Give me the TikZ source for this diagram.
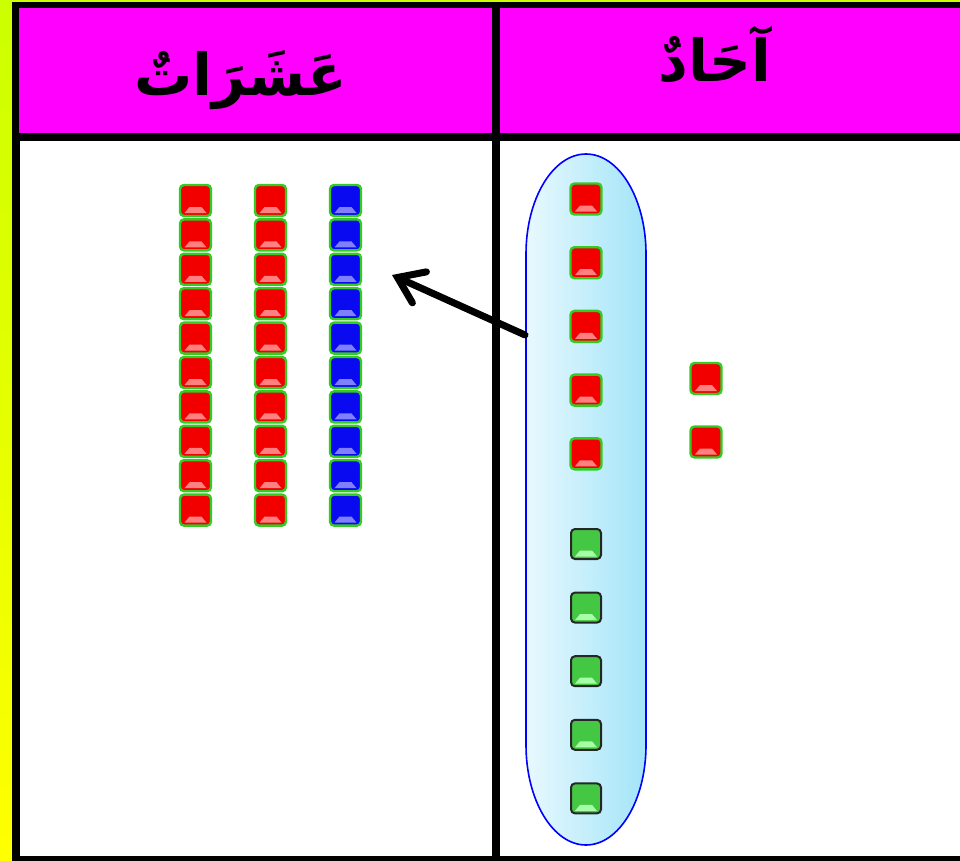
\documentclass[tikz,border=0pt]{standalone}
\usepackage{fontspec}
\newfontfamily\arabicfont[Script=Arabic]{DejaVu Sans}
\TeXXeTstate=1
\usetikzlibrary{arrows.meta}
\definecolor{hdr}{HTML}{FF00FF}
\definecolor{ylwtop}{HTML}{CCFF00}
\definecolor{ylwbot}{HTML}{FFFF00}
\definecolor{cubered}{HTML}{F20000}
\definecolor{cubeblue}{HTML}{0A0AF0}
\definecolor{cubegreen}{HTML}{44C844}
\definecolor{rimgreen}{HTML}{33CC22}
\definecolor{grpleft}{HTML}{E8F9FE}
\definecolor{grpright}{HTML}{A2E4F8}
\tikzset{
  cubebase/.style={rectangle, rounded corners=4pt, minimum size=31pt, inner sep=0pt, line width=2.4pt},
  bevel/.style={path picture={
    \fill[#1, sharp corners] ([xshift=-11pt,yshift=-12.5pt]path picture bounding box.center)
      -- ([xshift=11pt,yshift=-12.5pt]path picture bounding box.center)
      -- ([xshift=6pt,yshift=-6.5pt]path picture bounding box.center)
      -- ([xshift=-6pt,yshift=-6.5pt]path picture bounding box.center) -- cycle;}},
  redcube/.style={cubebase, fill=cubered, draw=rimgreen, bevel={red!50!white}},
  bluecube/.style={cubebase, fill=cubeblue, draw=rimgreen, bevel={blue!50!white}},
  greencube/.style={cubebase, fill=cubegreen, draw=black!85, line width=2pt, minimum size=30pt, bevel={green!35!white}},
  hdrtext/.style={font=\arabicfont\bfseries\fontsize{58}{60}\selectfont, text=black, inner sep=0pt},
}
\begin{document}
\begin{tikzpicture}[x=1pt,y=-1pt]
\useasboundingbox (0,0) rectangle (960,861);
% background strip
\shade[top color=ylwtop, bottom color=ylwbot] (0,0) rectangle (960,861);
% frame
\fill[black] (11.7,1.7) rectangle (960,861);
\fill[hdr] (19.3,8.3) rectangle (492,133.3);
\fill[hdr] (500,8.3) rectangle (960,133.3);
\fill[white] (19.5,141) rectangle (492,856);
\fill[white] (500,141) rectangle (960,856);
% headers
\node[hdrtext] (tens) at (241,80) {\beginR عَشَرَاتٌ\endR};
\node[hdrtext] (ones) at (715,55) {\beginR آحَادٌ\endR};
% tens columns
\foreach \i in {0,...,9}{
  \node[redcube] (ca\i) at (195.5,{200.5+34.4*\i}) {};
  \node[redcube] (cb\i) at (270.5,{200.5+34.4*\i}) {};
  \node[bluecube] (cc\i) at (345.5,{200.5+34.4*\i}) {};
}
% group of ten ones
\path[draw=blue, line width=1.6pt, left color=grpleft, right color=grpright]
  (526,254) arc[start angle=180, end angle=0, x radius=60pt, y radius=100pt]
  -- (646,745) arc[start angle=0, end angle=-180, x radius=60pt, y radius=100pt] -- cycle;
\coordinate (grpedge) at (525,335);
\foreach \i in {0,...,4}{
  \node[redcube] (gr\i) at (586,{199+63.7*\i}) {};
  \node[greencube] (gg\i) at (586,{544+63.6*\i}) {};
}
% remaining ones
\node[redcube] (r1) at (706,378.5) {};
\node[redcube] (r2) at (706,442) {};
% arrow
\coordinate (tip) at (392,275);
\draw[line width=7pt, line cap=round, line join=round, -{Straight Barb[length=24pt,width=34pt,line cap=round]}] (grpedge) -- (tip);
\end{tikzpicture}
\end{document}
